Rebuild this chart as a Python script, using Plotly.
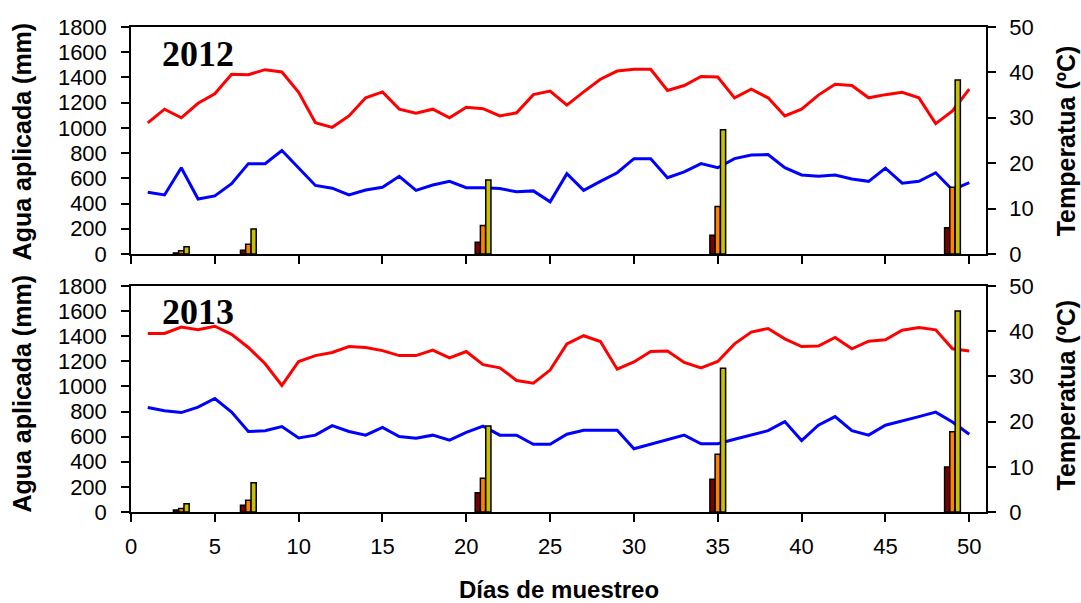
import plotly.graph_objects as go

days = list(range(1, 51))

tmax_2012 = [28.9, 31.9, 30.0, 33.2, 35.3, 39.6, 39.5, 40.6, 40.1, 35.6,
             28.9, 27.9, 30.4, 34.4, 35.7, 31.9, 31.0, 31.9, 30.0, 32.3,
             32.0, 30.4, 31.1, 35.1, 35.9, 32.8, 35.7, 38.5, 40.3, 40.7,
             40.7, 36.0, 37.1, 39.1, 39.0, 34.4, 36.3, 34.4, 30.4, 31.9,
             35.0, 37.4, 37.1, 34.4, 35.1, 35.6, 34.4, 28.7, 31.5, 36.3]
tmin_2012 = [13.6, 13.0, 19.0, 12.1, 12.8, 15.5, 19.9, 19.9, 22.8, 19.0,
             15.1, 14.5, 13.0, 14.1, 14.7, 17.1, 14.0, 15.2, 16.0, 14.6,
             14.6, 14.4, 13.7, 13.9, 11.5, 17.7, 14.0, 16.0, 17.9, 21.0,
             21.0, 16.8, 18.1, 19.9, 19.0, 21.0, 21.8, 21.9, 19.0, 17.4,
             17.1, 17.4, 16.5, 16.0, 18.9, 15.6, 16.0, 17.9, 14.1, 15.7]
tmax_2013 = [39.5, 39.5, 40.9, 40.3, 41.1, 39.3, 36.4, 32.8, 28.0, 33.3,
             34.6, 35.3, 36.6, 36.4, 35.7, 34.6, 34.6, 35.8, 34.1, 35.5,
             32.6, 31.9, 29.1, 28.5, 31.4, 37.2, 39.0, 37.7, 31.6, 33.2,
             35.5, 35.6, 33.1, 31.9, 33.3, 37.2, 39.8, 40.6, 38.3, 36.6,
             36.7, 38.6, 36.1, 37.8, 38.1, 40.2, 40.8, 40.3, 36.1, 35.6]
tmin_2013 = [23.1, 22.4, 22.0, 23.2, 25.1, 22.1, 17.8, 18.0, 18.9, 16.4,
             17.0, 19.1, 17.8, 17.0, 18.7, 16.7, 16.3, 17.0, 15.9, 17.6,
             19.0, 17.0, 17.0, 15.0, 15.0, 17.2, 18.1, 18.1, 18.1, 14.0,
             15.0, 16.1, 17.0, 15.1, 15.1, 16.1, 17.1, 18.0, 20.0, 15.8,
             19.2, 21.1, 18.0, 17.0, 19.2, 20.1, 21.1, 22.1, 19.9, 17.2]

irr_days = [3, 7, 21, 35, 49]
agua_a_2012 = [8, 30, 93, 148, 209]
agua_b_2012 = [25, 78, 225, 376, 530]
agua_c_2012 = [58, 198, 587, 985, 1380]
agua_a_2013 = [15, 54, 154, 260, 358]
agua_b_2013 = [28, 93, 269, 459, 640]
agua_c_2013 = [65, 232, 685, 1144, 1600]

x_ticks = list(range(0, 51, 5))

bar_colors = ["#7A0000", "#FF8000", "#C8C000"]
bar_offsets = [-0.47, -0.16, 0.16]
bar_width = 0.31

fig = go.Figure()

def add_panel(xa, ytemp, ymm, tmax, tmin, aguas):
    fig.add_trace(go.Scatter(x=days, y=tmax, mode="lines", xaxis=xa, yaxis=ytemp,
                             line=dict(color="#FF0000", width=3), showlegend=False))
    fig.add_trace(go.Scatter(x=days, y=tmin, mode="lines", xaxis=xa, yaxis=ytemp,
                             line=dict(color="#0000FF", width=3), showlegend=False))
    for vals, col, off in zip(aguas, bar_colors, bar_offsets):
        fig.add_trace(go.Bar(x=irr_days, y=vals, xaxis=xa, yaxis=ymm,
                             width=bar_width, offset=off,
                             marker=dict(color=col, line=dict(color="black", width=1.5)),
                             showlegend=False))

add_panel("x2", "y3", "y4", tmax_2012, tmin_2012, [agua_a_2012, agua_b_2012, agua_c_2012])
add_panel("x", "y", "y2", tmax_2013, tmin_2013, [agua_a_2013, agua_b_2013, agua_c_2013])

FONT = "Liberation Sans, Arial, sans-serif"
axis_common = dict(showline=True, linecolor="black", linewidth=1.5, ticks="outside",
                   ticklen=8, tickwidth=1.5, tickcolor="black", showgrid=False,
                   zeroline=False, tickfont=dict(family=FONT, size=22, color="black"))

top_dom = [0.532, 1.0]
bot_dom = [0.0, 0.466]

fig.update_layout(
    width=1081, height=603,
    margin=dict(l=131, r=95, t=27, b=91),
    plot_bgcolor="white", paper_bgcolor="white",
    barmode="overlay",
    xaxis=dict(domain=[0, 1], anchor="y", range=[0, 51], tickvals=x_ticks,
               mirror=True, ticklabelstandoff=6, **axis_common),
    xaxis2=dict(domain=[0, 1], anchor="y3", range=[0, 51], tickvals=x_ticks,
                showticklabels=False, mirror=True, **axis_common),
    yaxis=dict(domain=bot_dom, anchor="x", side="right", range=[0, 50], dtick=10,
               ticklabelstandoff=9, **axis_common),
    yaxis2=dict(overlaying="y", anchor="x", side="left", range=[0, 1800], dtick=200,
                ticklabelstandoff=10, **axis_common),
    yaxis3=dict(domain=top_dom, anchor="x2", side="right", range=[0, 50], dtick=10,
                ticklabelstandoff=9, **axis_common),
    yaxis4=dict(overlaying="y3", anchor="x2", side="left", range=[0, 1800], dtick=200,
                ticklabelstandoff=10, **axis_common),
)

title_font = dict(family=FONT, size=25, color="black")
ann = [
    dict(text="<b>2012</b>", x=0.034, y=0.944, xanchor="left", yanchor="middle",
         font=dict(family="Liberation Serif, Times New Roman, serif", size=36, color="black")),
    dict(text="<b>2013</b>", x=0.034, y=0.412, xanchor="left", yanchor="middle",
         font=dict(family="Liberation Serif, Times New Roman, serif", size=36, color="black")),
    dict(text="<b>Agua aplicada (mm)</b>", x=-0.127, y=0.765, textangle=-90,
         xanchor="center", yanchor="middle", font=title_font),
    dict(text="<b>Agua aplicada (mm)</b>", x=-0.127, y=0.245, textangle=-90,
         xanchor="center", yanchor="middle", font=title_font),
    dict(text="<b>Temperatua (ºC)</b>", x=1.094, y=0.765, textangle=-90,
         xanchor="center", yanchor="middle", font=title_font),
    dict(text="<b>Temperatua (ºC)</b>", x=1.094, y=0.241, textangle=-90,
         xanchor="center", yanchor="middle", font=title_font),
    dict(text="<b>Días de muestreo</b>", x=0.5, y=-0.16, xanchor="center",
         yanchor="middle", font=dict(family=FONT, size=24, color="black")),
]
for a in ann:
    a.update(xref="paper", yref="paper", showarrow=False)
fig.update_layout(annotations=ann)

fig.write_html("out.html", config={"displayModeBar": False},
               post_script="document.body.style.margin='0';document.body.style.overflow='hidden';")
